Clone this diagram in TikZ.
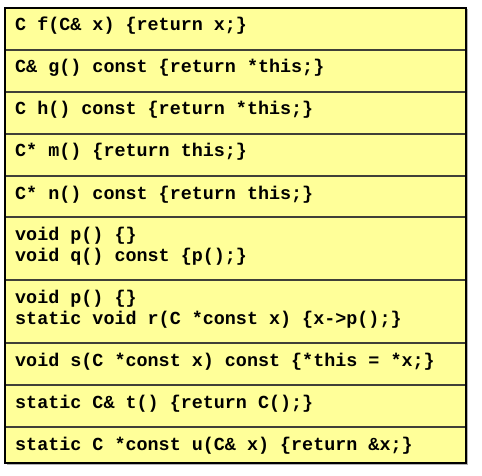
\documentclass[tikz,border=0pt]{standalone}
\usepackage{fontspec}
\setmonofont{Liberation Mono}
\definecolor{rowfill}{RGB}{255,255,153}
\definecolor{sepline}{RGB}{64,64,56}
\begin{document}
\begin{tikzpicture}[x=1pt,y=-1pt,
  code/.style={anchor=base west,inner sep=0pt,font=\fontsize{18.4}{21}\selectfont\ttfamily\bfseries,text=black},
  sep/.style={draw=sepline,line width=1.3pt},
  frame/.style={draw=black,line width=2pt}]
\useasboundingbox (0,0) rectangle (482,476);
\fill[gray!60] (6.5,9.5) rectangle (467.5,464.5);
\fill[rowfill] (5,8) rectangle (466,463);
\foreach \y in {50,92,134,176,217,280,343,385,427}
  \draw[sep] (5,\y) -- (466,\y);
\draw[frame] (5,8) rectangle (466,463);
\node[code] (f) at (15,31) {C f(C\& x) \{return x;\}};
\node[code] (g) at (15,73) {C\& g() const \{return *this;\}};
\node[code] (h) at (15,115) {C h() const \{return *this;\}};
\node[code] (m) at (15,157) {C* m() \{return this;\}};
\node[code] (n) at (15,199) {C* n() const \{return this;\}};
\node[code] (p1) at (15,240) {void p() \{\}};
\node[code] (q) at (15,261) {void q() const \{p();\}};
\node[code] (p2) at (15,303) {void p() \{\}};
\node[code] (r) at (15,324) {static void r(C *const x) \{x->p();\}};
\node[code] (s) at (15,366) {void s(C *const x) const \{*this = *x;\}};
\node[code] (t) at (15,408) {static C\& t() \{return C();\}};
\node[code] (u) at (15,450) {static C *const u(C\& x) \{return \&x;\}};
\end{tikzpicture}
\end{document}
